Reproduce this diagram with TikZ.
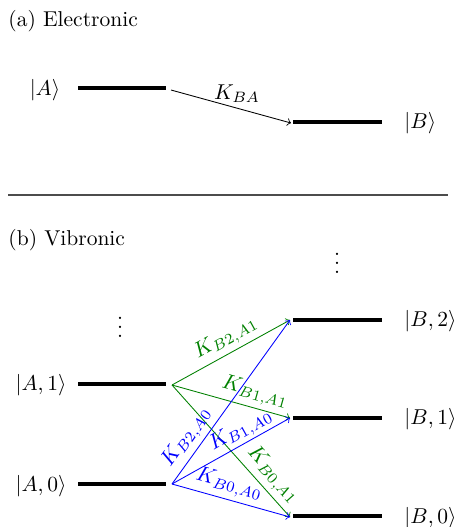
\documentclass[tikz,border=0pt]{standalone}
\usepackage{amsmath}
\begin{document}
\begin{tikzpicture}[x=0.465pt,y=-0.465pt,
  level/.style={line width=1.9pt},
  trans/.style={->,line width=0.4pt},
  gtrans/.style={trans,draw=green!50!black},
  btrans/.style={trans,draw=blue},
  glab/.style={text=green!50!black,sloped,above,inner sep=2pt},
  blab/.style={text=blue,sloped,above,inner sep=2pt},
  txt/.style={inner sep=0pt}]
\useasboundingbox (0,0) rectangle (455,527);
% (a)
\node[txt,anchor=west] (ta) at (8,21) {(a) Electronic};
\coordinate (As) at (78,88); \coordinate (Ae) at (166,88);
\coordinate (Bs) at (293,122); \coordinate (Be) at (382,122);
\draw[level] (As) -- (Ae);
\draw[level] (Bs) -- (Be);
\node[txt] (lA) at (45,90) {$|A\rangle$};
\node[txt,anchor=west] (lB) at (404,123) {$|B\rangle$};
\coordinate (Ast) at (171,90); \coordinate (Bend) at (291,123);
\draw[trans] (Ast) -- node[pos=0.55,above,inner sep=2.5pt] (kba) {$K_{BA}$} (Bend);
% rule
\coordinate (r1) at (8,195); \coordinate (r2) at (448,195);
\draw[black!70,line width=0.5pt] (r1) -- (r2);
% (b)
\node[txt,anchor=west] (tb) at (8,240) {(b) Vibronic};
\node[txt] (vd1) at (337,257) {$\vdots$};
\node[txt] (vd2) at (120,321) {$\vdots$};
\coordinate (A1s) at (78,384); \coordinate (A1e) at (166,384);
\coordinate (A0s) at (78,484); \coordinate (A0e) at (166,484);
\coordinate (B2s) at (293,320); \coordinate (B2e) at (382,320);
\coordinate (B1s) at (293,418); \coordinate (B1e) at (382,418);
\coordinate (B0s) at (293,516); \coordinate (B0e) at (382,516);
\draw[level] (A1s) -- (A1e);
\draw[level] (A0s) -- (A0e);
\draw[level] (B2s) -- (B2e);
\draw[level] (B1s) -- (B1e);
\draw[level] (B0s) -- (B0e);
\node[txt] (lA1) at (41,385) {$|A,1\rangle$};
\node[txt] (lA0) at (41,486) {$|A,0\rangle$};
\node[txt,anchor=west] (lB2) at (404,321) {$|B,2\rangle$};
\node[txt,anchor=west] (lB1) at (404,419) {$|B,1\rangle$};
\node[txt,anchor=west] (lB0) at (404,518) {$|B,0\rangle$};
\coordinate (A1o) at (172,385);
\coordinate (A0o) at (172,484);
\coordinate (B2t) at (290,320);
\coordinate (B1t) at (290,418);
\coordinate (B0t) at (290,517);
\draw[gtrans] (A1o) -- node[glab,pos=0.52] (k21) {$K_{B2,A1}$} (B2t);
\draw[gtrans] (A1o) -- node[glab,pos=0.67] (k11) {$K_{B1,A1}$} (B1t);
\draw[gtrans] (A1o) -- node[glab,pos=0.76] (k01) {$K_{B0,A1}$} (B0t);
\draw[btrans] (A0o) -- node[blab,pos=0.23] (k20) {$K_{B2,A0}$} (B2t);
\draw[btrans] (A0o) -- node[blab,pos=0.64,inner sep=1pt] (k10) {$K_{B1,A0}$} (B1t);
\draw[btrans] (A0o) -- node[blab,pos=0.45] (k00) {$K_{B0,A0}$} (B0t);
\end{tikzpicture}
\end{document}
